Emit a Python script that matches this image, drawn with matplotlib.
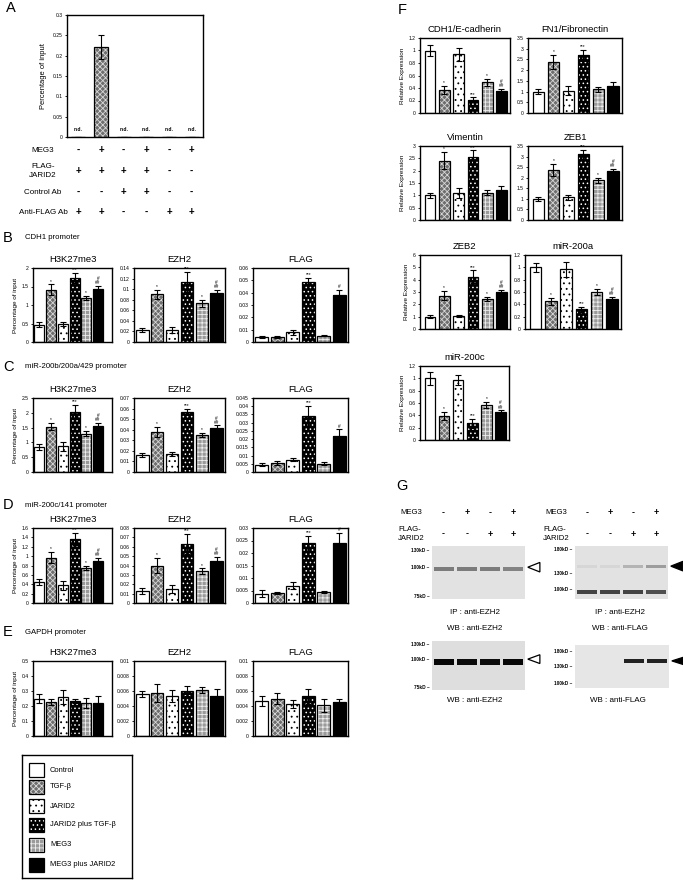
import matplotlib
matplotlib.use('Agg')
import matplotlib.pyplot as plt
import numpy as np
from matplotlib.patches import Rectangle, Polygon
from matplotlib.transforms import blended_transform_factory
from matplotlib.ticker import MultipleLocator, FuncFormatter

plt.rcParams['font.family'] = ['Liberation Sans', 'DejaVu Sans']
plt.rcParams['hatch.linewidth'] = 0.6

# ---------------- data ----------------
conditions = ['Control', 'TGF-β', 'JARID2', 'JARID2 plus TGF-β', 'MEG3', 'MEG3 plus JARID2']

# A: RIP / FLAG ChIP
a_vals = [0, 0.222, 0, 0, 0, 0]
a_err = [0, 0.03, 0, 0, 0, 0]
a_nd = [True, False, True, True, True, True]
a_rows = ['MEG3', 'FLAG-\nJARID2', 'Control Ab', 'Anti-FLAG Ab']
a_signs = [['-', '+', '-', '+', '-', '+'],
           ['+', '+', '+', '+', '-', '-'],
           ['-', '-', '+', '+', '-', '-'],
           ['+', '+', '-', '-', '+', '+']]

# ChIP, CDH1 promoter
cdh1_h3 = [0.47, 1.41, 0.48, 1.73, 1.19, 1.43]
cdh1_h3_err = [0.07, 0.15, 0.06, 0.13, 0.06, 0.08]
cdh1_ezh2 = [0.022, 0.090, 0.023, 0.114, 0.073, 0.092]
cdh1_ezh2_err = [0.004, 0.008, 0.006, 0.019, 0.006, 0.007]
cdh1_flag = [0.004, 0.004, 0.008, 0.049, 0.005, 0.038]
cdh1_flag_err = [0.001, 0.001, 0.002, 0.003, 0.0005, 0.004]

# ChIP, miR-200b/200a/429 promoter
m429_h3 = [0.85, 1.53, 0.87, 2.03, 1.30, 1.57]
m429_h3_err = [0.09, 0.12, 0.15, 0.23, 0.08, 0.09]
m429_ezh2 = [0.016, 0.038, 0.017, 0.057, 0.035, 0.042]
m429_ezh2_err = [0.002, 0.005, 0.002, 0.003, 0.002, 0.002]
m429_flag = [0.0045, 0.0055, 0.0075, 0.034, 0.005, 0.022]
m429_flag_err = [0.001, 0.001, 0.001, 0.006, 0.001, 0.004]

# ChIP, miR-200c/141 promoter
m141_h3 = [0.45, 0.97, 0.38, 1.37, 0.75, 0.90]
m141_h3_err = [0.06, 0.12, 0.10, 0.13, 0.05, 0.06]
m141_ezh2 = [0.013, 0.040, 0.015, 0.063, 0.034, 0.045]
m141_ezh2_err = [0.003, 0.008, 0.004, 0.011, 0.003, 0.004]
m141_flag = [0.0038, 0.004, 0.007, 0.024, 0.0045, 0.024]
m141_flag_err = [0.0015, 0.0005, 0.0013, 0.003, 0.0005, 0.004]

# ChIP, GAPDH promoter
gapdh_h3 = [0.25, 0.23, 0.26, 0.235, 0.22, 0.22]
gapdh_h3_err = [0.03, 0.02, 0.045, 0.015, 0.035, 0.05]
gapdh_ezh2 = [0.0056, 0.0058, 0.0053, 0.0060, 0.0062, 0.0053]
gapdh_ezh2_err = [0.0004, 0.0012, 0.0008, 0.0007, 0.0004, 0.001]
gapdh_flag = [0.0047, 0.0050, 0.0043, 0.0053, 0.0041, 0.0045]
gapdh_flag_err = [0.0007, 0.0007, 0.0005, 0.001, 0.0009, 0.0004]

# F: qPCR relative expression
cdh1_expr = [1.0, 0.37, 0.94, 0.21, 0.49, 0.35]
cdh1_expr_err = [0.09, 0.07, 0.10, 0.04, 0.05, 0.04]
fn1_expr = [1.0, 2.40, 1.05, 2.70, 1.10, 1.25]
fn1_expr_err = [0.13, 0.33, 0.22, 0.25, 0.10, 0.18]
vim_expr = [1.0, 2.40, 1.10, 2.55, 1.10, 1.20]
vim_expr_err = [0.10, 0.35, 0.20, 0.27, 0.10, 0.17]
zeb1_expr = [1.0, 2.37, 1.08, 3.10, 1.88, 2.30]
zeb1_expr_err = [0.10, 0.28, 0.12, 0.20, 0.13, 0.12]
zeb2_expr = [1.0, 2.70, 1.07, 4.25, 2.45, 3.00]
zeb2_expr_err = [0.12, 0.38, 0.08, 0.50, 0.15, 0.20]
m200a_expr = [1.0, 0.45, 0.97, 0.32, 0.60, 0.49]
m200a_expr_err = [0.07, 0.06, 0.12, 0.04, 0.05, 0.03]
m200c_expr = [1.0, 0.39, 0.98, 0.27, 0.57, 0.45]
m200c_expr_err = [0.10, 0.07, 0.08, 0.07, 0.05, 0.03]

sig_full = ['', '*', '', '***', '*', '#\n##']
sig_flag = ['', '', '', '***', '', '#']
sig_two = ['', '*', '', '***', '', '']
sig_none = [''] * 6

# G: western blots (band position 0=top .. 1=bottom, thickness, lane intensity)
g_meg3 = ['-', '+', '-', '+']
g_flag = ['-', '-', '+', '+']
ip_ezh2_wb_ezh2 = [(0.43, 0.07, [0.45, 0.45, 0.45, 0.42])]
ip_ezh2_wb_flag = [(0.87, 0.08, [0.7, 0.7, 0.7, 0.65]),
                   (0.38, 0.06, [0.05, 0.05, 0.2, 0.3])]
wb_ezh2 = [(0.43, 0.13, [0.97, 0.95, 0.95, 0.97])]
wb_flag = [(0.37, 0.10, [0.0, 0.0, 0.85, 0.85])]
mk_ip_ezh2 = [('130kD', 0.09), ('100kD', 0.40), ('75kD', 0.96)]
mk_ip_flag = [('180kD', 0.06), ('130kD', 0.51), ('100kD', 0.83)]
mk_wb_ezh2 = [('130kD', 0.08), ('100kD', 0.37), ('75kD', 0.94)]
mk_wb_flag = [('180kD', 0.14), ('130kD', 0.51), ('100kD', 0.90)]

# ---------------- styles ----------------
face = ['white', '#6e6e6e', 'white', 'black', '#9a9a9a', 'black']
hatches = [None, 'xxxxxx', '...', '....', '++++', None]
hatch_col = ['black', '#d8d8d8', 'black', 'white', '#eeeeee', 'black']

W, H = 683, 882
fig = plt.figure(figsize=(W / 100, H / 100), dpi=100)


def px_axes(x0, y0, x1, y1):
    return fig.add_axes([x0 / W, 1 - y1 / H, (x1 - x0) / W, (y1 - y0) / H])


def fy(y):
    return 1 - y / H


def fx(x):
    return x / W


fmt = FuncFormatter(lambda v, p: f'{v:g}')


def style_axes(ax, ymax, step):
    ax.set_ylim(0, ymax)
    ax.yaxis.set_major_locator(MultipleLocator(step))
    ax.yaxis.set_major_formatter(fmt)
    ax.tick_params(axis='y', labelsize=3.6, length=1.5, width=0.6, pad=1.5)
    ax.set_xticks([])
    for s in ax.spines.values():
        s.set_linewidth(1.0)


def draw_bars(ax, vals, errs, width):
    x = np.arange(len(vals))
    for i in range(len(vals)):
        ax.bar(x[i], vals[i], width, color=face[i], hatch=hatches[i],
               edgecolor=hatch_col[i], linewidth=0)
        ax.bar(x[i], vals[i], width, fill=False, edgecolor='black', linewidth=0.9)
    ax.errorbar(x, vals, yerr=errs, fmt='none', ecolor='black',
                elinewidth=0.8, capsize=2.2, capthick=0.8)


def bar_panel(box, vals, errs, ymax, step, marks, title, ylabel=None,
              width=0.85, xr=5.55):
    ax = px_axes(*box)
    draw_bars(ax, vals, errs, width)
    ax.set_xlim(-0.55, xr)
    style_axes(ax, ymax, step)
    ax.set_title(title, fontsize=6.8, pad=4)
    for i, m in enumerate(marks):
        if m:
            ax.text(i, vals[i] + errs[i] + ymax * 0.01, m, ha='center', va='bottom',
                    fontsize=3.4, linespacing=0.8)
    if ylabel:
        ax.set_ylabel(ylabel, fontsize=4.6, labelpad=3)
    return ax


# ---------------- A ----------------
axA = px_axes(67, 15, 203, 137)
draw_bars(axA, a_vals, a_err, 0.62)
axA.set_xlim(-0.5, 5.5)
style_axes(axA, 0.3, 0.05)
axA.set_ylabel('Percentage of input', fontsize=5.4, labelpad=4)
for i, nd in enumerate(a_nd):
    if nd:
        axA.text(i, 0.012, 'n.d.', ha='center', va='bottom', fontsize=3.6,
                 fontweight='bold')
trA = blended_transform_factory(axA.transData, fig.transFigure)
row_y = [150, 171, 192, 212]
for r, lab in enumerate(a_rows):
    fig.text(fx(43), fy(row_y[r]), lab, ha='center', va='center', fontsize=5.8,
             linespacing=1.3)
    for i, s in enumerate(a_signs[r]):
        axA.text(i, fy(row_y[r]), s, transform=trA, ha='center', va='center',
                 fontsize=7, fontweight='bold')
fig.text(fx(6), fy(8), 'A', fontsize=10.5, va='center')

# ---------------- B-E ----------------
cols = [(33, 112, 6.2), (134, 225, 5.55), (253, 348, 5.55)]
rows = [
    ('B', 'CDH1 promoter', 238, (268, 342),
     [(cdh1_h3, cdh1_h3_err, 2, 0.5, sig_full),
      (cdh1_ezh2, cdh1_ezh2_err, 0.14, 0.02, sig_full),
      (cdh1_flag, cdh1_flag_err, 0.06, 0.01, sig_flag)]),
    ('C', 'miR-200b/200a/429 promoter', 367, (398, 472),
     [(m429_h3, m429_h3_err, 2.5, 0.5, sig_full),
      (m429_ezh2, m429_ezh2_err, 0.07, 0.01, sig_full),
      (m429_flag, m429_flag_err, 0.045, 0.005, sig_flag)]),
    ('D', 'miR-200c/141 promoter', 505, (528, 603),
     [(m141_h3, m141_h3_err, 1.6, 0.2, sig_full),
      (m141_ezh2, m141_ezh2_err, 0.08, 0.01, sig_full),
      (m141_flag, m141_flag_err, 0.03, 0.005, sig_flag)]),
    ('E', 'GAPDH promoter', 632, (661, 736),
     [(gapdh_h3, gapdh_h3_err, 0.5, 0.1, sig_none),
      (gapdh_ezh2, gapdh_ezh2_err, 0.01, 0.002, sig_none),
      (gapdh_flag, gapdh_flag_err, 0.01, 0.002, sig_none)]),
]
titles = ['H3K27me3', 'EZH2', 'FLAG']
for letter, head, hy, (y0, y1), panels in rows:
    fig.text(fx(3), fy(hy), letter, fontsize=10.5, va='center')
    fig.text(fx(25), fy(hy), head, fontsize=5.6, va='center')
    for c, (vals, errs, ymax, step, marks) in enumerate(panels):
        x0, x1, xr = cols[c]
        bar_panel((x0, y0, x1, y1), vals, errs, ymax, step, marks, titles[c],
                  ylabel='Percentage of input' if c == 0 else None, xr=xr)

# legend box
axL = px_axes(22, 755, 132, 878)
axL.set_xlim(0, 110)
axL.set_ylim(123, 0)
axL.set_xticks([])
axL.set_yticks([])
for s in axL.spines.values():
    s.set_linewidth(1.0)
leg_y = [15, 32, 51, 70, 90, 110]
for i, lab in enumerate(conditions):
    axL.add_patch(Rectangle((7, leg_y[i] - 7), 15, 14, facecolor=face[i],
                            hatch=hatches[i], edgecolor=hatch_col[i], linewidth=0))
    axL.add_patch(Rectangle((7, leg_y[i] - 7), 15, 14, fill=False,
                            edgecolor='black', linewidth=0.9))
    axL.text(28, leg_y[i], lab, fontsize=5.4, va='center')

# ---------------- F ----------------
fig.text(fx(398), fy(10), 'F', fontsize=10.5, va='center')
f_panels = [
    ((420, 38, 510, 113), cdh1_expr, cdh1_expr_err, 1.2, 0.2, sig_full, 'CDH1/E-cadherin', True),
    ((528, 38, 622, 113), fn1_expr, fn1_expr_err, 3.5, 0.5, sig_two, 'FN1/Fibronectin', False),
    ((420, 146, 510, 220), vim_expr, vim_expr_err, 3, 0.5, sig_two, 'Vimentin', True),
    ((528, 146, 622, 220), zeb1_expr, zeb1_expr_err, 3.5, 0.5, sig_full, 'ZEB1', False),
    ((420, 255, 510, 329), zeb2_expr, zeb2_expr_err, 6, 1, sig_full, 'ZEB2', True),
    ((525, 255, 621, 329), m200a_expr, m200a_expr_err, 1.2, 0.2, sig_full, 'miR-200a', False),
    ((420, 366, 509, 440), m200c_expr, m200c_expr_err, 1.2, 0.2, sig_full, 'miR-200c', True),
]
for box, vals, errs, ymax, step, marks, title, lab in f_panels:
    ax = bar_panel(box, vals, errs, ymax, step, marks, title,
                   ylabel='Relative Expression' if lab else None,
                   width=0.75, xr=5.6)
    ax.set_xlim(-0.7, 5.6)

# ---------------- G ----------------
fig.text(fx(396), fy(486), 'G', fontsize=10.5, va='center')


def blot(box, bands, markers, bg, arrow):
    ax = px_axes(*box)
    ax.set_xlim(-0.5, 3.5)
    ax.set_ylim(1, 0)
    ax.set_facecolor(bg)
    ax.set_xticks([])
    ax.set_yticks([])
    for s in ax.spines.values():
        s.set_visible(False)
    lanes = np.arange(4)
    for pos, thick, inten in bands:
        ax.bar(lanes, thick, bottom=pos - thick / 2, width=0.86,
               color=[(0, 0, 0, a) for a in inten], linewidth=0)
    tr = blended_transform_factory(ax.transAxes, ax.transData)
    for lab, pos in markers:
        ax.text(-0.03, pos, lab + ' –', transform=tr, ha='right', va='center',
                fontsize=3.4, fontweight='bold')
    kind, pos = arrow
    tri = Polygon([(1.03, pos), (1.16, pos - 0.09), (1.16, pos + 0.09)],
                  closed=True, transform=tr, clip_on=False,
                  facecolor='black' if kind == 'filled' else 'white',
                  edgecolor='black', linewidth=0.9)
    ax.add_patch(tri)
    return ax


ax_g1 = blot((432, 546, 525, 599), ip_ezh2_wb_ezh2, mk_ip_ezh2, '#e2e2e2', ('open', 0.40))
ax_g2 = blot((575, 546, 668, 599), ip_ezh2_wb_flag, mk_ip_flag, '#e2e2e2', ('filled', 0.38))
ax_g3 = blot((432, 641, 525, 690), wb_ezh2, mk_wb_ezh2, '#dedede', ('open', 0.37))
ax_g4 = blot((575, 645, 669, 688), wb_flag, mk_wb_flag, '#e6e6e6', ('filled', 0.37))

for axg, xlab in [(ax_g1, 400), (ax_g2, 545)]:
    trg = blended_transform_factory(axg.transData, fig.transFigure)
    fig.text(fx(xlab), fy(513), 'MEG3', fontsize=5.6, va='center')
    fig.text(fx(xlab - 2), fy(534), 'FLAG-\nJARID2', fontsize=5.6, va='center',
             linespacing=1.3)
    for i in range(4):
        axg.text(i, fy(513), g_meg3[i], transform=trg, ha='center', va='center',
                 fontsize=6.5, fontweight='bold')
        axg.text(i, fy(534), g_flag[i], transform=trg, ha='center', va='center',
                 fontsize=6.5, fontweight='bold')

fig.text(fx(475), fy(612), 'IP : anti-EZH2', fontsize=5.8, ha='center', va='center')
fig.text(fx(475), fy(628), 'WB : anti-EZH2', fontsize=5.8, ha='center', va='center')
fig.text(fx(620), fy(612), 'IP : anti-EZH2', fontsize=5.8, ha='center', va='center')
fig.text(fx(620), fy(628), 'WB : anti-FLAG', fontsize=5.8, ha='center', va='center')
fig.text(fx(475), fy(700), 'WB : anti-EZH2', fontsize=5.8, ha='center', va='center')
fig.text(fx(618), fy(700), 'WB : anti-FLAG', fontsize=5.8, ha='center', va='center')

fig.savefig('out.png', dpi=100)
